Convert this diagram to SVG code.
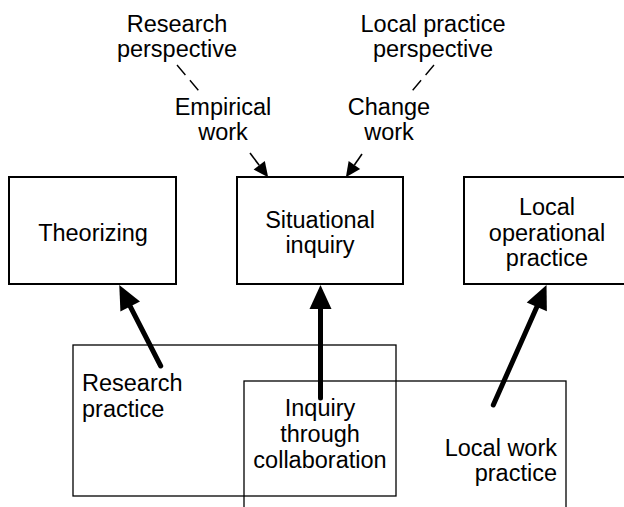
<svg xmlns="http://www.w3.org/2000/svg" width="624" height="507" viewBox="0 0 624 507">
<style>
text{font-family:"Liberation Sans",Arial,sans-serif;font-size:23.5px;fill:#000}
.c{text-anchor:middle}
.r{text-anchor:end}
.box{fill:none;stroke:#000;stroke-width:2}
.area{fill:none;stroke:#000;stroke-width:1.3}
.thick{fill:none;stroke:#000;stroke-width:5;stroke-linecap:round}
.thin{fill:none;stroke:#000;stroke-width:1.6}
.dash{fill:none;stroke:#000;stroke-width:1.4;stroke-dasharray:13 7}
</style>
<defs>
<marker id="bigHead" markerUnits="userSpaceOnUse" markerWidth="26" markerHeight="24" viewBox="-1 -12 26 24" refX="0" refY="0" orient="auto">
<path d="M0,-11 L24,0 L0,11 Z" fill="#000"/>
</marker>
<marker id="smallHead" markerUnits="userSpaceOnUse" markerWidth="17" markerHeight="16" viewBox="-1 -8 17 16" refX="0" refY="0" orient="auto">
<path d="M0,-7 L15,0 L0,7 Z" fill="#000"/>
</marker>
</defs>
<g id="research-practice">
<rect class="area" x="73" y="345" width="323" height="151"/>
<text x="82" y="391">Research</text>
<text x="82" y="417">practice</text>
</g>
<g id="local-work-practice">
<rect class="area" x="244" y="381" width="322" height="140"/>
<text class="r" x="557" y="456">Local work</text>
<text class="r" x="557" y="481">practice</text>
</g>
<g id="inquiry-through-collaboration">
<text class="c" x="320" y="416">Inquiry</text>
<text class="c" x="320" y="442">through</text>
<text class="c" x="320" y="468">collaboration</text>
</g>
<g id="theorizing">
<rect class="box" x="9" y="177" width="167" height="107"/>
<text class="c" x="93" y="241">Theorizing</text>
</g>
<g id="situational-inquiry">
<rect class="box" x="237" y="177" width="166" height="107"/>
<text class="c" x="320" y="228">Situational</text>
<text class="c" x="320" y="253">inquiry</text>
</g>
<g id="local-operational-practice">
<rect class="box" x="464" y="177" width="170" height="107"/>
<text class="c" x="547" y="215">Local</text>
<text class="c" x="547" y="241">operational</text>
<text class="c" x="547" y="266">practice</text>
</g>
<g id="research-perspective">
<text class="c" x="177" y="32">Research</text>
<text class="c" x="177" y="57">perspective</text>
</g>
<g id="local-practice-perspective">
<text class="c" x="433" y="32">Local practice</text>
<text class="c" x="433" y="57">perspective</text>
</g>
<g id="empirical-work">
<text class="c" x="223" y="115">Empirical</text>
<text class="c" x="223" y="140">work</text>
</g>
<g id="change-work">
<text class="c" x="389" y="115">Change</text>
<text class="c" x="389" y="140">work</text>
</g>
<g id="connectors">
<path class="dash" d="M177,65 L199,91"/>
<path class="dash" d="M434,65 L412,91"/>
<path class="thin" d="M250,153 L259.2,165.3" marker-end="url(#smallHead)"/>
<path class="thin" d="M362,154 L354.4,165" marker-end="url(#smallHead)"/>
<path class="thick" d="M160.7,366 L130.2,306.4" marker-end="url(#bigHead)"/>
<path class="thick" d="M320.5,398 L320.5,309" marker-end="url(#bigHead)"/>
<path class="thick" d="M493.3,405 L536.8,306.9" marker-end="url(#bigHead)"/>
</g>
</svg>
